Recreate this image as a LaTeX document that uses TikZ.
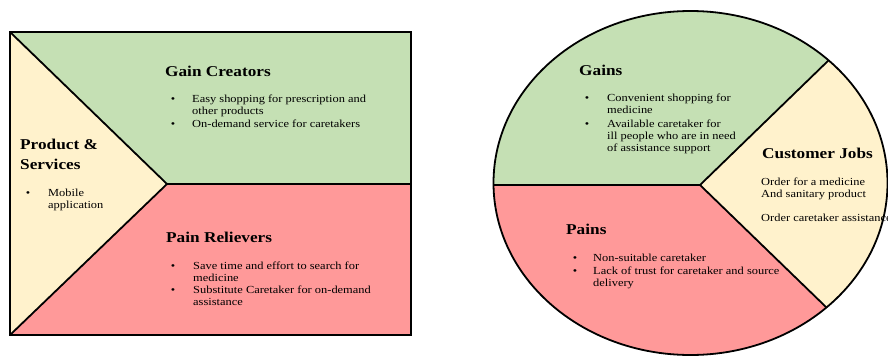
\documentclass[tikz,border=0pt]{standalone}
\usepackage{fontspec}
\setmainfont{Liberation Serif}[FakeStretch=1.15]
\definecolor{gainG}{HTML}{C5E0B4}
\definecolor{painR}{HTML}{FF9999}
\definecolor{jobY}{HTML}{FFF2CC}
\newcommand{\mylines}[1]{\begin{tabular}[t]{@{}l@{}}#1\end{tabular}}
\tikzset{
 hd/.style={anchor=base west, inner sep=0, font=\fontsize{15}{20}\selectfont\bfseries},
 tx/.style={anchor=base west, inner sep=0, font=\fontsize{10.8}{12}\selectfont},
 bul/.style={anchor=base, inner sep=0, font=\fontsize{10.8}{12}\selectfont},
 edge/.style={line width=1.8pt, line join=miter},
}
\begin{document}
\begin{tikzpicture}[x=1pt,y=-1pt]
\useasboundingbox (0,0) rectangle (888,356);
% ---------- left panel ----------
\coordinate (tl) at (10,32);
\coordinate (tr) at (411,32);
\coordinate (bl) at (10,335);
\coordinate (br) at (411,335);
\coordinate (apex) at (167,184);
\coordinate (mr) at (411,184);
\fill[jobY] (tl) -- (apex) -- (bl) -- cycle;
\fill[gainG] (tl) -- (tr) -- (mr) -- (apex) -- cycle;
\fill[painR] (apex) -- (mr) -- (br) -- (bl) -- cycle;
\draw[edge] (tl) -- (apex) -- (bl);
\draw[edge] (apex) -- (mr);
\draw[edge] (tl) rectangle (br);

\node[hd] (gc) at (165,76) {Gain Creators};
\node[bul] (gcb1) at (173,102.7) {•};
\node[tx] (gct1) at (192,102.7) {\mylines{Easy shopping for prescription and\\other products}};
\node[bul] (gcb2) at (173,127) {•};
\node[tx] (gct2) at (192,127) {On-demand service for caretakers};

\node[hd] (ps) at (20,149) {\mylines{Product \&\\Services}};
\node[bul] (psb1) at (28,196) {•};
\node[tx] (pst1) at (48,196) {\mylines{Mobile\\application}};

\node[hd] (pr) at (166,242) {Pain Relievers};
\node[bul] (prb1) at (173,269) {•};
\node[tx] (prt1) at (193,269) {\mylines{Save time and effort to search for\\medicine}};
\node[bul] (prb2) at (173,293) {•};
\node[tx] (prt2) at (193,293) {\mylines{Substitute Caretaker for on-demand\\assistance}};

% ---------- right panel ----------
\coordinate (c) at (700,185);
\begin{scope}
\clip (690.5,183) ellipse [x radius=197, y radius=172];
\fill[jobY] (480,0) rectangle (900,360);
\fill[gainG] (c) -- (480,185) -- (480,0) -- (890.8,0) -- cycle;
\fill[painR] (c) -- (480,185) -- (480,400) -- (922,400) -- cycle;
\draw[edge] (c) -- (480,185);
\draw[edge] (c) -- (890.8,0);
\draw[edge] (c) -- (922,400);
\end{scope}
\draw[edge] (690.5,183) ellipse [x radius=197, y radius=172];

\node[hd] (ga) at (579,75) {Gains};
\node[bul] (gab1) at (587,101.7) {•};
\node[tx] (gat1) at (607,101.7) {\mylines{Convenient shopping for\\medicine}};
\node[bul] (gab2) at (587,127) {•};
\node[tx] (gat2) at (607,127) {\mylines{Available caretaker for\\ill people who are in need\\of assistance support}};

\node[hd] (cj) at (762,158) {Customer Jobs};
\node[tx] (cjt1) at (761,185) {\mylines{Order for a medicine\\And sanitary product}};
\node[tx] (cjt2) at (761,221.7) {Order caretaker assistance};

\node[hd] (pa) at (566,234) {Pains};
\node[bul] (pab1) at (575,261.7) {•};
\node[tx] (pat1) at (593,261.7) {Non-suitable caretaker};
\node[bul] (pab2) at (575,274) {•};
\node[tx] (pat2) at (593,274) {\mylines{Lack of trust for caretaker and source\\delivery}};
\end{tikzpicture}
\end{document}
